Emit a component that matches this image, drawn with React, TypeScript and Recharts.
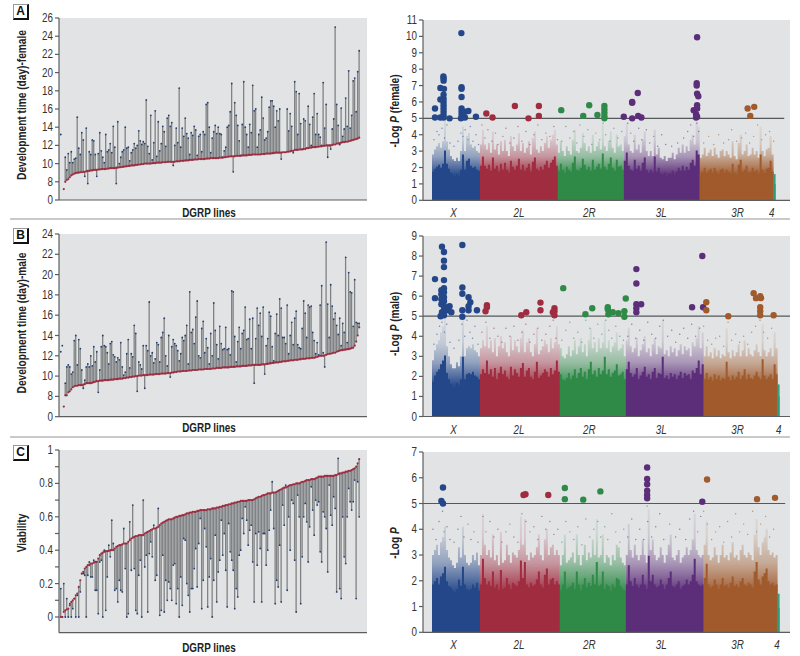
import { Area, Bar, CartesianGrid, ComposedChart, Line, ReferenceLine, Scatter, XAxis, YAxis } from 'recharts';

const FONT = '"Liberation Sans", Arial, sans-serif';
const PLOT_BG = '#e1e3e4';
const AXIS = '#5b5d5f';
const RED = '#9c2b40';
const BLUE = '#25406f';
const STEM = '#808385';
const CHROM_COLORS: Record<string, string> = {
  X: '#24478a',
  '2L': '#a02c40',
  '2R': '#2f8a48',
  '3L': '#5c2d78',
  '3R': '#a05a2c',
  '4': '#2a9d7e',
};

// development time, sorted line means (red) and replicate values (blue), female
const femaleMeans = [
  null, null, 7.2, 8.0, 8.2, 8.3, 8.5, 8.7, 8.8, 8.9,
  8.95, 9.0, 9.0, 9.05, 9.05, 9.1, 9.1, 9.15, 9.2, 9.2,
  9.25, 9.25, 9.3, 9.3, 9.3, 9.35, 9.35, 9.4, 9.4, 9.4,
  9.4, 9.45, 9.45, 9.5, 9.5, 9.5, 9.5, 9.55, 9.55, 9.6,
  9.6, 9.65, 9.65, 9.7, 9.7, 9.75, 9.75, 9.8, 9.8, 9.8,
  9.85, 9.85, 9.9, 9.9, 9.95, 9.95, 10, 10, 10, 10,
  10, 10.05, 10.05, 10.05, 10.1, 10.1, 10.1, 10.1, 10.15, 10.15,
  10.15, 10.2, 10.2, 10.2, 10.2, 10.2, 10.2, 10.25, 10.25, 10.25,
  10.3, 10.3, 10.3, 10.35, 10.35, 10.35, 10.4, 10.4, 10.4, 10.45,
  10.45, 10.45, 10.5, 10.5, 10.5, 10.5, 10.5, 10.55, 10.55, 10.55,
  10.6, 10.6, 10.6, 10.6, 10.6, 10.6, 10.65, 10.65, 10.65, 10.7,
  10.7, 10.75, 10.75, 10.8, 10.8, 10.8, 10.8, 10.85, 10.85, 10.85,
  10.85, 10.9, 10.9, 10.9, 10.9, 10.95, 10.95, 10.95, 11, 11,
  11, 11, 11, 11, 11.05, 11.05, 11.05, 11.1, 11.1, 11.1,
  11.1, 11.15, 11.15, 11.2, 11.2, 11.2, 11.2, 11.2, 11.25, 11.25,
  11.25, 11.3, 11.3, 11.35, 11.4, 11.4, 11.5, 11.5, 11.5, 11.55,
  11.55, 11.55, 11.6, 11.6, 11.7, 11.7, 11.75, 11.75, 11.8, 11.8,
  11.8, 11.85, 11.85, 11.9, 11.9, 11.95, 11.95, 12, 12, 12,
  12, 12.05, 12.1, 12.1, 12.2, 12.2, 12.25, 12.3, 12.35, 12.35,
  12.4, 12.4, 12.45, 12.5, 12.55, 12.6, 12.65, 12.7, 12.75, 12.85,
];
const femaleValues = [
  13.2, null, null, 10.7, 9.3, 11.1, 10.1, 11.3, 10.1, 10.5,
  10.6, 15.1, 11.7, 11.0, 13.4, 12.6, 8.6, 13.9, 7.8, 11.3,
  11.0, 12.6, 12.5, 11.0, 8.6, 11.1, 13.4, 11.4, 10.7, 10.1,
  13.2, 11.3, 11.5, 12.2, 11.2, 14.1, 11.8, 7.8, 14.6, 10.0,
  10.7, 11.3, 11.5, 14.0, 11.7, 11.8, 10.3, 11.2, 11.5, 12.2,
  11.7, 12.0, 13.6, 12.5, 12.1, 12.4, 12.2, 17.0, 11.9, 11.1,
  15.3, 10.4, 12.3, 15.8, 10.8, 14.6, 11.4, 12.2, 14.1, 13.5,
  11.9, 15.0, 15.3, 14.1, 14.5, 9.8, 12.0, 13.9, 12.3, 18.3,
  11.8, 13.9, 13.0, 15.0, 13.3, 12.8, 11.0, 13.4, 13.1, 14.1,
  13.7, 10.9, 13.0, 13.2, 11.3, 13.5, 13.2, 16.5, 16.7, 14.0,
  11.2, 12.8, 13.5, 14.2, 13.3, 14.0, 13.3, 13.2, 10.7, 11.4,
  11.8, 14.0, 14.2, 15.7, 18.8, 9.1, 16.7, 15.3, 14.2, 12.5,
  10.9, 14.3, 19.0, 14.0, 13.2, 11.8, 14.3, 13.4, 18.6, 15.8,
  16.0, 11.8, 13.2, 13.7, 17.3, 15.0, 12.6, 12.8, 13.5, 16.2,
  16.9, 16.9, 16.3, 14.0, 15.8, 14.7, 16.0, 10.5, null, null,
  null, 16.0, 13.6, 15.5, 14.1, 11.2, 19.0, 17.9, 13.2, 17.7,
  14.4, 11.6, 14.9, 14.7, 11.7, 16.3, 14.3, 12.0, 15.1, 17.7,
  13.2, 15.5, 13.2, 12.9, 12.0, 18.9, 13.9, 16.5, 10.7, 12.0,
  11.6, 13.8, 14.9, 25.0, 16.5, 14.2, 12.1, 16.1, 13.0, 13.8,
  17.2, 14.1, 20.2, 13.9, 15.3, 19.1, 19.4, 15.7, 20.1, 22.4,
];

const maleMeans = [
  null, null, 7.0, 8.1, 8.1, 8.4, 8.5, 8.7, 8.9, 9.0,
  9.05, 9.05, 9.1, 9.1, 9.1, 9.15, 9.2, 9.3, 9.3, 9.3,
  9.3, 9.35, 9.4, 9.45, 9.5, 9.5, 9.55, 9.55, 9.55, 9.6,
  9.6, 9.6, 9.6, 9.65, 9.65, 9.65, 9.7, 9.7, 9.7, 9.75,
  9.75, 9.75, 9.8, 9.8, 9.85, 9.85, 9.9, 9.9, 9.95, 9.95,
  10, 10, 10.05, 10.05, 10.05, 10.1, 10.1, 10.1, 10.1, 10.15,
  10.15, 10.15, 10.15, 10.2, 10.2, 10.2, 10.2, 10.25, 10.25, 10.25,
  10.25, 10.3, 10.3, 10.3, 10.35, 10.35, 10.4, 10.4, 10.45, 10.45,
  10.45, 10.5, 10.5, 10.5, 10.5, 10.55, 10.55, 10.55, 10.6, 10.6,
  10.6, 10.6, 10.65, 10.65, 10.65, 10.65, 10.7, 10.7, 10.7, 10.7,
  10.7, 10.75, 10.75, 10.75, 10.8, 10.8, 10.8, 10.8, 10.85, 10.85,
  10.85, 10.85, 10.85, 10.9, 10.9, 10.9, 10.9, 10.95, 10.95, 10.95,
  10.95, 11, 11, 11, 11, 11.05, 11.05, 11.05, 11.1, 11.1,
  11.1, 11.1, 11.1, 11.1, 11.15, 11.15, 11.15, 11.2, 11.2, 11.25,
  11.25, 11.3, 11.3, 11.35, 11.35, 11.35, 11.4, 11.4, 11.45, 11.45,
  11.45, 11.5, 11.5, 11.55, 11.55, 11.55, 11.6, 11.6, 11.6, 11.65,
  11.65, 11.7, 11.7, 11.7, 11.75, 11.75, 11.75, 11.8, 11.8, 11.8,
  11.85, 11.9, 11.95, 12, 12, 12, 12.05, 12.1, 12.15, 12.2,
  12.2, 12.25, 12.3, 12.3, 12.4, 12.45, 12.5, 12.55, 12.55, 12.6,
  12.6, 12.65, 12.65, 12.7, 12.75, 12.8, 13.0, 13.4, 14.0, 14.8,
];
const maleValues = [
  12.4, 13.0, null, 9.3, 10.9, 11.1, 10.9, 10.2, 10.4, 13.5,
  14.0, 11.1, 13.6, 12.7, 10.6, 8.8, 9.6, 10.9, 11.2, 10.9,
  12.0, 11.0, 12.9, 11.4, 12.4, 8.4, 10.6, 12.9, 14.0, 13.0,
  12.9, 12.3, 11.2, 13.2, 13.4, 12.1, 11.9, 11.4, 11.8, 11.6,
  13.3, 10.9, 10.1, 10.4, 12.2, 13.6, 10.8, 12.2, 11.9, 15.0,
  14.2, 8.5, 11.4, 11.1, 10.7, 13.0, 8.8, 13.0, 12.5, 17.3,
  12.0, 12.3, 11.3, 11.7, 13.3, 13.1, 11.4, 13.8, 14.3, 15.7,
  12.0, 11.0, 14.0, 9.9, 12.9, 13.6, 13.2, 13.0, 12.5, 11.5,
  12.2, 13.8, 13.5, 14.0, 15.0, 11.2, 18.3, 14.3, 14.6, 13.2,
  15.8, 17.4, 12.0, 11.8, 14.7, 15.4, 12.3, 13.7, 12.8, 11.2,
  14.2, 12.0, 17.2, 14.5, 13.1, 11.7, 14.9, 13.2, 12.6, 12.7,
  14.8, 12.6, 12.7, 12.1, 18.4, 18.3, 13.9, 11.4, 13.4, 14.8,
  12.7, 14.2, 14.5, 16.8, 13.6, 13.7, 15.6, 12.7, 15.7, 9.3,
  13.7, 16.7, 15.0, 16.2, 13.9, 16.8, 10.2, 13.0, 13.7, 16.3,
  15.9, 12.9, 11.5, 14.2, 16.1, 14.0, 17.6, 16.7, 13.8, 13.8,
  13.2, 17.0, 12.2, 14.0, 15.3, 13.1, 15.7, 16.4, 13.1, 12.8,
  12.7, 14.7, 17.4, 16.2, 13.8, 17.0, 16.8, 16.9, 14.3, 13.5,
  12.2, 13.3, 12.1, 17.0, 18.9, 12.3, 10.9, 23.2, 17.1, 13.8,
  19.0, 16.9, 15.6, 16.2, 15.0, 14.1, 15.7, 13.0, 15.2, 14.3,
  21.7, 13.3, 20.2, 18.3, 18.2, 14.9, 19.5, 15.3, 15.2, 15.2,
];

const viabilityMeans = [
  0, 0, 0.03, 0.04, 0.045, 0.05, 0.07, 0.09, 0.1, 0.11,
  0.13, 0.14, 0.18, 0.22, 0.26, 0.27, 0.29, 0.3, 0.31, 0.31,
  0.32, 0.32, 0.325, 0.33, 0.33, 0.35, 0.37, 0.38, 0.385, 0.39,
  0.395, 0.395, 0.395, 0.4, 0.4, 0.4, 0.41, 0.42, 0.425, 0.43,
  0.43, 0.435, 0.44, 0.44, 0.44, 0.45, 0.46, 0.47, 0.475, 0.48,
  0.485, 0.485, 0.49, 0.49, 0.49, 0.49, 0.5, 0.505, 0.51, 0.515,
  0.52, 0.525, 0.53, 0.53, 0.535, 0.54, 0.55, 0.56, 0.565, 0.57,
  0.575, 0.58, 0.585, 0.585, 0.585, 0.59, 0.595, 0.6, 0.6, 0.605,
  0.605, 0.61, 0.61, 0.615, 0.62, 0.62, 0.625, 0.625, 0.63, 0.63,
  0.63, 0.635, 0.635, 0.64, 0.64, 0.64, 0.64, 0.64, 0.645, 0.645,
  0.645, 0.65, 0.65, 0.65, 0.655, 0.655, 0.66, 0.66, 0.665, 0.665,
  0.67, 0.67, 0.675, 0.675, 0.68, 0.68, 0.685, 0.685, 0.69, 0.69,
  0.695, 0.695, 0.695, 0.695, 0.695, 0.7, 0.7, 0.7, 0.7, 0.705,
  0.71, 0.715, 0.72, 0.72, 0.725, 0.73, 0.73, 0.735, 0.74, 0.74,
  0.74, 0.745, 0.745, 0.745, 0.75, 0.755, 0.76, 0.765, 0.77, 0.775,
  0.775, 0.78, 0.785, 0.79, 0.79, 0.795, 0.795, 0.8, 0.8, 0.8,
  0.805, 0.81, 0.81, 0.815, 0.82, 0.82, 0.82, 0.825, 0.825, 0.825,
  0.83, 0.835, 0.84, 0.84, 0.84, 0.84, 0.845, 0.845, 0.845, 0.845,
  0.845, 0.845, 0.845, 0.85, 0.85, 0.855, 0.86, 0.86, 0.865, 0.865,
  0.87, 0.87, 0.875, 0.875, 0.88, 0.885, 0.89, 0.9, 0.92, 0.945,
];
const viabilityValues = [
  0.17, 0, 0.2, 0, 0.11, 0, 0.08, 0, 0.05, 0.11,
  0, 0.13, 0, 0.15, 0.26, 0.26, 0.25, 0, 0.25, 0.33,
  0.24, 0.24, 0.34, 0.16, 0.16, 0.02, 0.33, 0.34, 0, 0.4,
  0.04, 0.24, 0.43, 0.36, 0.58, 0.44, 0.16, 0.17, 0.09, 0.22,
  0.16, 0.15, 0.53, 0.29, 0, 0.02, 0.57, 0.28, 0.67, 0.29,
  0.04, 0.02, 0.25, 0.34, 0, 0.7, 0.3, 0.37, 0.03, 0.38,
  0.45, 0.36, 0.55, 0.22, 0.25, 0.65, 0.01, 0.04, 0.37, 0.03,
  0.22, 0.1, 0.21, 0.17, 0.1, 0.31, 0.32, 0.08, 0.17, 0,
  0.24, 0.07, 0.47, 0.46, 0.2, 0.13, 0.03, 0.17, 0.17, 0.29,
  0.41, 0.18, 0.44, 0.59, 0.05, 0.22, 0.53, 0.42, 0.06, 0.24,
  0.35, 0, 0.22, 0.49, 0.09, 0.27, 0.34, 0.58, 0.37, 0.5,
  0.28, 0.06, 0.56, 0.39, 0.34, 0.28, 0.05, 0.17, 0.12, 0.37,
  0.4, 0.59, 0.5, 0.66, 0.58, 0.43, 0.52, 0.55, 0.33, 0.09,
  0.5, 0.31, 0.51, 0.41, 0.09, 0.5, 0.5, 0.31, 0.4, 0.52,
  0.64, 0.81, 0.53, 0.08, 0.22, 0.18, 0.43, 0.09, 0.67, 0.55,
  0.79, 0.16, 0.6, 0.4, 0.7, 0.68, 0.34, 0.03, 0.73, 0.6,
  0.08, 0.36, 0.6, 0.68, 0.57, 0.33, 0.54, 0.78, 0.64, 0.49,
  0.7, 0.67, 0.69, 0.39, 0.33, 0.63, 0.6, 0.53, 0.27, 0.79,
  0.61, 0.55, 0.72, 0.65, 0.15, 0.95, 0.17, 0.11, 0.6, 0.36,
  0.32, 0.6, 0.77, 0.69, 0.64, 0.69, 0.82, 0.11, 0.81, 0.6,
];

const CHROMS = ['X', '2L', '2R', '3L', '3R', '4'];

// column tops of the -log P cloud, per chromosome
const femaleCloud: number[][] = [
  [2.8, 3.1, 3.3, 3.5, 3.2, 3.6, 4.9, 3.6, 3.1, 2.7, 2.5, 2.4, 2.6, 2.4, 3.0, 4.5, 3.0, 3.9, 4.1, 3.4, 3.2, 3.3, 3.0, 2.9],
  [3.4, 4.3, 3.4, 3.1, 3.5, 2.9, 4.2, 3.1, 3.4, 2.8, 3.6, 3.0, 3.7, 3.0, 2.7, 3.9, 3.3, 3.0, 3.4, 4.1, 3.0, 3.5, 2.9, 3.2, 3.6, 2.8, 3.8, 4.2, 3.1, 2.9, 3.3, 3.0, 3.5, 3.9, 3.2, 3.7, 4.0, 4.3, 3.4],
  [2.9, 3.6, 3.0, 2.7, 3.3, 3.0, 2.8, 3.7, 4.3, 3.0, 2.9, 3.2, 4.1, 3.5, 3.0, 3.3, 2.9, 4.0, 3.0, 3.3, 3.6, 3.1, 4.6, 3.3, 3.0, 3.6, 4.2, 3.2, 2.9, 4.0, 3.3, 3.4, 3.0],
  [3.9, 4.7, 3.4, 3.0, 2.9, 4.0, 3.1, 3.4, 2.9, 3.7, 4.2, 3.0, 2.7, 3.0, 2.7, 4.3, 2.8, 3.2, 2.6, 2.5, 2.7, 2.4, 2.6, 2.6, 2.9, 2.5, 2.8, 3.2, 2.9, 3.4, 2.9, 3.3, 3.0, 3.7, 4.0, 3.4, 4.9, 4.5],
  [2.6, 2.8, 3.2, 2.7, 2.9, 3.1, 2.7, 3.2, 2.8, 2.6, 3.0, 3.1, 2.7, 3.0, 2.8, 2.6, 3.6, 2.7, 2.5, 3.5, 4.0, 2.8, 3.0, 3.4, 2.7, 2.8, 3.2, 2.8, 3.0, 2.6, 4.5, 3.0, 2.7, 3.1, 3.2, 3.9, 2.8],
  [1.6],
];
const maleCloud: number[][] = [
  [2.8, 3.3, 3.6, 3.8, 4.2, 4.5, 4.9, 3.5, 3.0, 2.6, 2.4, 2.4, 2.7, 2.5, 3.0, 4.8, 3.0, 3.4, 3.5, 3.4, 3.6, 3.3, 3.2, 3.0],
  [3.4, 3.8, 3.5, 4.5, 3.4, 3.8, 3.2, 3.9, 3.0, 3.5, 4.0, 3.4, 3.7, 3.2, 3.0, 4.0, 3.3, 3.8, 3.5, 3.2, 3.9, 4.3, 3.2, 3.7, 3.9, 3.2, 3.0, 3.6, 4.4, 3.1, 3.3, 3.5, 3.8, 3.6, 3.2, 3.9, 3.4, 3.7, 4.5, 3.6],
  [3.4, 3.0, 2.9, 3.1, 3.5, 3.0, 3.3, 3.8, 3.1, 3.5, 3.9, 3.2, 3.6, 3.0, 3.8, 4.4, 3.4, 3.7, 3.2, 3.9, 3.4, 3.7, 4.8, 3.4, 3.8, 3.2, 3.5, 3.7, 4.2, 3.3, 3.4, 3.6, 3.0],
  [3.8, 4.4, 3.5, 3.2, 3.4, 3.9, 3.0, 3.3, 3.6, 4.0, 3.2, 3.4, 3.0, 3.6, 3.9, 3.1, 3.5, 3.4, 4.8, 3.1, 3.3, 3.0, 3.5, 3.2, 3.4, 3.0, 3.3, 3.6, 3.1, 3.5, 3.3, 3.4, 3.0, 3.7, 3.5, 3.9, 4.5, 3.4, 4.2],
  [3.0, 3.5, 3.0, 3.2, 2.9, 3.4, 3.0, 3.3, 2.9, 3.1, 3.0, 4.4, 3.2, 2.9, 3.3, 3.0, 3.2, 3.6, 3.0, 3.3, 3.8, 3.0, 3.4, 3.1, 3.0, 3.3, 3.6, 3.2, 3.0, 4.6, 3.3, 3.0, 3.2, 3.4, 3.0, 4.2, 3.4],
  [1.6],
];
const viabilityCloud: number[][] = [
  [3.0, 3.2, 3.4, 3.0, 3.5, 3.7, 4.1, 3.2, 2.9, 2.8, 2.6, 2.5, 2.7, 3.3, 2.9, 4.1, 3.0, 2.7, 2.6, 2.7, 3.0, 2.8, 3.1, 2.6],
  [3.0, 4.6, 3.4, 3.0, 3.2, 2.9, 3.8, 2.8, 3.0, 2.6, 3.9, 2.7, 2.8, 3.4, 3.0, 2.7, 3.1, 3.0, 2.9, 3.2, 4.5, 3.4, 4.4, 3.0, 2.8, 3.1, 2.9, 3.0, 3.3, 3.8, 3.0, 2.8, 3.6, 4.0, 3.0, 3.3, 3.4, 3.0, 3.2, 3.0],
  [2.6, 3.0, 3.8, 2.7, 2.8, 2.9, 3.1, 2.7, 3.8, 3.0, 2.6, 3.0, 3.4, 2.8, 3.1, 2.9, 3.6, 3.0, 4.4, 2.9, 3.0, 3.8, 2.7, 3.0, 2.9, 2.6, 3.0, 2.8, 3.4, 3.3, 2.9, 2.7, 2.6],
  [3.0, 4.2, 3.2, 2.9, 3.4, 3.0, 2.8, 3.0, 3.6, 3.0, 2.7, 4.8, 3.2, 3.6, 3.0, 2.8, 2.9, 3.3, 3.0, 2.7, 3.0, 3.4, 3.8, 2.9, 2.8, 3.0, 3.2, 2.7, 2.9, 3.0, 3.3, 3.0, 3.2, 3.6, 4.6, 3.2, 3.0, 2.9, 3.0],
  [3.4, 4.3, 3.0, 2.8, 2.9, 3.3, 3.0, 2.7, 3.0, 3.4, 2.9, 3.0, 2.8, 3.1, 3.5, 2.9, 3.0, 2.8, 3.2, 3.4, 3.0, 2.9, 3.1, 3.0, 2.8, 3.8, 4.4, 3.3, 3.0, 3.5, 3.7, 4.0, 3.2, 3.0, 3.1, 2.9, 3.0],
  [1.5],
];

// loose SNPs above the cloud: [position, -log P], one list per chromosome
const femaleSpecks: number[][][] = [
  [[1, 3.7], [2.5, 4.2], [3.5, 4.0], [5, 4.4], [6.3, 3.8], [7.5, 4.6], [9, 3.5], [11, 3.3], [13, 3.6], [14.5, 4.1], [15.5, 3.9], [16.6, 4.3], [18, 3.7], [19.2, 4.5], [20.5, 3.6], [22, 4.0], [23.3, 3.4]],
  [[25, 4.6], [26.5, 3.8], [28, 4.3], [30, 3.6], [31.8, 4.1], [33, 3.4], [35.5, 3.9], [37, 4.4], [39, 3.5], [41, 3.8], [43, 4.5], [45, 3.6], [47, 4.2], [49, 3.4], [51, 4.0], [53, 4.6], [55, 3.7], [57, 4.1], [59, 3.9], [61, 4.5], [62.8, 3.7]],
  [[65, 3.6], [67, 4.5], [69, 3.8], [71, 4.2], [72.5, 3.5], [74, 4.6], [76, 3.9], [78, 4.3], [80, 3.4], [82, 4.1], [84, 3.7], [85.6, 4.7], [87, 4.0], [89, 3.6], [91, 4.4], [93, 3.8], [95, 4.2]],
  [[98, 4.7], [99.5, 4.1], [101, 3.6], [103.5, 4.4], [105, 3.7], [107.3, 4.3], [109, 3.5], [111, 3.9], [113, 3.3], [115, 4.0], [117, 3.4], [120, 3.3], [123, 3.5], [126, 3.8], [128, 4.2], [129.5, 4.6], [131, 3.9], [132.6, 4.7], [133.5, 4.2]],
  [[136, 3.5], [138.5, 3.9], [141, 3.4], [143.5, 4.0], [146, 3.5], [148.5, 3.7], [150, 4.3], [152.5, 3.6], [155, 3.8], [157, 4.1], [159, 3.5], [161, 3.9], [163, 4.6], [165, 3.7], [167, 4.0], [169, 4.2], [171, 3.6]],
];
const maleSpecks: number[][][] = [
  [[1, 3.6], [2.5, 4.1], [3.8, 4.5], [5, 4.7], [6.2, 4.2], [7.4, 4.6], [9, 3.7], [11, 3.4], [13.5, 3.8], [15, 4.6], [16.4, 4.0], [17.5, 4.8], [19, 4.2], [20.3, 3.9], [21.5, 4.5], [23, 3.6]],
  [[25, 4.2], [27, 4.7], [29, 3.9], [31, 4.4], [33, 4.0], [35, 3.7], [37, 4.4], [39, 4.0], [41, 4.5], [43, 3.8], [45, 4.2], [47, 4.6], [49, 3.7], [51, 4.1], [53, 4.4], [55, 3.8], [57, 4.1], [59, 4.5], [60.7, 4.8], [62, 3.9]],
  [[65, 3.8], [67, 4.3], [69, 4.7], [71, 3.9], [73, 4.2], [75, 3.7], [77, 4.8], [79, 4.4], [81, 3.9], [83, 4.6], [85, 4.1], [87, 4.8], [88.5, 4.3], [90, 3.9], [92, 4.5], [94, 4.0], [95.8, 3.8]],
  [[98, 4.0], [100, 4.6], [102, 3.9], [104, 4.3], [106, 3.8], [108, 4.7], [110, 4.1], [112, 3.9], [114, 4.5], [115.8, 4.8], [118, 4.0], [120, 4.3], [122, 3.7], [124, 4.1], [126, 4.4], [128, 3.9], [130, 4.6], [132, 4.0], [134, 4.4]],
  [[136, 4.5], [138, 3.8], [140, 3.6], [142, 3.9], [144, 4.0], [146, 3.5], [148.2, 4.7], [150, 3.8], [152, 4.1], [154, 3.7], [156, 4.0], [158, 3.6], [160, 4.2], [162, 4.5], [164.2, 4.8], [166, 4.2], [168, 3.9], [170, 4.4]],
];
const viabilitySpecks: number[][][] = [
  [[0.5, 4.0], [2, 3.6], [3.5, 4.3], [5.3, 4.7], [6, 3.9], [7.5, 4.1], [9, 3.6], [11, 3.5], [13, 4.0], [14.5, 4.5], [16, 3.7], [18, 4.2], [19.5, 3.6], [21, 3.9], [23, 3.5]],
  [[25.5, 4.5], [27, 3.9], [29, 4.3], [31, 3.7], [33, 4.0], [35, 3.5], [37, 3.9], [39, 4.2], [41, 3.7], [43, 3.5], [45, 4.6], [47, 4.3], [49, 3.9], [51, 4.1], [53, 3.6], [55, 4.5], [57, 4.0], [59, 4.3], [61, 3.8], [63, 4.0]],
  [[65, 3.5], [67, 4.3], [69, 3.9], [71, 3.6], [73, 4.1], [75, 3.4], [77, 4.4], [79, 3.7], [81, 4.0], [83, 4.3], [84.5, 3.7], [86.5, 4.1], [88, 3.6], [90, 4.6], [92, 3.9], [94, 3.5], [96, 4.0]],
  [[98, 3.7], [100, 4.4], [102, 3.6], [104, 4.0], [106, 3.6], [107.7, 4.9], [108, 4.3], [110, 3.7], [112, 4.1], [114, 4.6], [116, 3.6], [119, 4.2], [122, 3.7], [124, 4.0], [127, 3.6], [129, 4.4], [131, 4.7], [133, 3.9], [134.5, 4.5]],
  [[136, 4.7], [137.8, 4.2], [140, 3.6], [142, 3.9], [144, 4.1], [146, 3.5], [148, 4.3], [150, 3.7], [152, 4.6], [154, 3.9], [156, 4.2], [158, 3.8], [160.5, 4.7], [162.5, 3.9], [164.5, 4.2], [167, 4.5], [169, 3.7], [171, 4.0]],
];

// significant SNPs: [position, -log P], one list per chromosome
const femaleHits: number[][][] = [
  [[1.5, 5.6], [1.5, 5.05], [5.7, 7.55], [5.8, 7.45], [5.8, 7.3], [4.2, 6.85], [6, 6.8], [4.2, 6.15], [5.8, 6.45], [5.8, 6.2], [5.8, 6.0], [5.8, 5.8], [5.8, 5.6], [5.8, 5.4], [5.8, 5.2], [5.8, 5.05], [4.2, 5.05], [8.8, 5.0], [14.7, 10.2], [14.8, 6.9], [14.8, 6.8], [14.8, 6.3], [14.8, 5.6], [14.8, 5.4], [14.8, 5.2], [14.5, 5.0], [16.5, 5.05], [16.5, 5.4], [18.2, 5.45], [22, 5.1]],
  [[27.2, 5.3], [30.3, 5.05], [41.5, 5.75], [48.3, 5.0], [53.5, 5.75], [53.5, 5.15]],
  [[64.7, 5.5], [75.7, 5.15], [78.7, 5.8], [82.8, 5.2], [86.3, 5.75], [86.3, 5.55], [86.3, 5.35], [86.3, 5.15], [86.3, 5.0]],
  [[96, 5.1], [100.2, 5.0], [100.2, 5.95], [100.2, 6.0], [103, 6.55], [103.2, 5.15], [104.8, 5.05], [132.7, 9.95], [132.5, 7.15], [132.5, 7.0], [132.7, 6.5], [133.3, 6.35], [132.7, 5.8], [131, 5.5], [132.7, 5.6], [132.2, 5.25], [132.2, 5.05], [132.7, 5.1]],
  [[158, 5.6], [161.3, 5.7], [159.3, 5.15]],
];
const maleHits: number[][][] = [
  [[1.5, 6.85], [1.5, 5.9], [5, 8.47], [6, 8.2], [6, 7.77], [6, 7.45], [6, 6.8], [6, 6.4], [4.7, 6.3], [6, 6.2], [4.7, 6.1], [6, 5.95], [4.7, 5.85], [6, 5.75], [4.7, 5.6], [6, 5.5], [6, 5.3], [5, 5.2], [6, 5.05], [4.3, 5.0], [8.8, 5.5], [8, 5.3], [9.7, 5.2], [15.2, 8.55], [15.2, 6.43], [15.2, 6.12], [15.2, 5.3], [15.2, 4.97], [18.3, 5.95], [19.2, 5.7], [18.3, 5.5], [18.3, 5.3], [22.5, 5.3]],
  [[27.5, 5.55], [27.5, 5.45], [26.8, 5.25], [44.7, 5.05], [47.2, 5.2], [54.3, 5.68], [54.3, 5.3], [61.3, 5.4], [61.3, 5.25], [60.5, 5.2], [61.3, 5.05]],
  [[65.7, 6.4], [76.8, 5.1], [80.2, 5.4], [88, 5.45], [88, 5.35], [88.3, 5.1], [90.5, 5.2], [93.3, 5.15], [96.3, 5.25], [96.3, 4.97], [97, 5.88]],
  [[102.3, 7.35], [102.3, 6.63], [102.3, 5.6], [102.3, 5.4], [102.3, 5.2], [104.7, 5.6], [130.2, 5.45], [135.3, 8.0], [135.7, 5.45]],
  [[137.3, 5.7], [137.3, 5.3], [148.3, 5.0], [161, 6.15], [162.2, 5.9], [164.3, 6.0], [164.7, 5.9], [164.3, 5.45], [164.3, 5.25], [164.3, 5.05], [171, 5.05]],
];
const viabilityHits: number[][][] = [
  [[5.5, 5.62], [4.7, 5.1], [5.5, 5.0]],
  [[45.8, 5.33], [46.8, 5.36], [58.2, 5.33]],
  [[66.5, 5.6], [66.5, 5.17], [75.7, 5.15], [84.3, 5.47]],
  [[107.7, 6.4], [107.7, 5.95], [107.7, 5.75], [107.7, 5.5], [107.7, 5.33], [107.7, 5.2], [135.3, 5.07]],
  [[137.7, 5.93], [162.7, 5.17], [171.7, 5.22]],
];

const femaleTicks = [6, 8, 10, 12, 14, 16, 18, 20, 22, 24, 26];
const maleTicks = [6, 8, 10, 12, 14, 16, 18, 20, 22, 24];
const viabilityTicks = [0, 0.1, 0.2, 0.3, 0.4, 0.5, 0.6, 0.7, 0.8, 0.9, 1];
const viabilityLabels = [0, 0.2, 0.4, 0.6, 0.8, 1];
const chromLabelPos = [10.8, 43.5, 78.7, 114.7, 153];

// the only narrow text here is a squeezed Liberation Sans
const NarrowTick = (fmt: (v: number) => string, anchor: 'end' | 'middle', italic = false) =>
  (p: any) => (
    <text
      transform={`translate(${p.x} ${p.y}) scale(0.82 1)`}
      dy={anchor === 'end' ? 4 : 9}
      textAnchor={anchor}
      fontSize={12}
      fontFamily={FONT}
      fontStyle={italic ? 'italic' : 'normal'}
      fill="#333"
    >
      {fmt(p.payload.value)}
    </text>
  );

function LinesPanel({ top, bottom, means, values, domain, ticks, fmt }: {
  top: number; bottom: number; means: (number | null)[]; values: (number | null)[];
  domain: number[]; ticks: number[]; fmt: (v: number) => string;
}) {
  const rows = values.map((v, i) => {
    const m = means[i] ?? null;
    return { i, m, v, stem: v != null && m != null ? [Math.min(m, v), Math.max(m, v)] : null };
  });
  return (
    <div style={{ position: 'absolute', left: 0, top: top - 6 }}>
      <ComposedChart width={380} height={bottom - top + 12} data={rows} margin={{ top: 6, right: 13, left: 0, bottom: 5 }}>
        <CartesianGrid fill={PLOT_BG} horizontal={false} vertical={false} />
        <XAxis dataKey="i" type="number" domain={[-1.2, 204.2]} tick={false} tickLine={false} height={1} stroke={AXIS} strokeWidth={1.2} />
        <YAxis width={59} domain={domain} ticks={ticks} interval={0} tick={NarrowTick(fmt, 'end')} tickSize={4} stroke={AXIS} strokeWidth={1.2} />
        <Bar dataKey="stem" barSize={1.3} fill={STEM} isAnimationActive={false} />
        <Line dataKey="v" stroke="none" dot={{ r: 0.9, fill: BLUE, stroke: 'none' }} isAnimationActive={false} />
        <Line dataKey="m" stroke="none" dot={{ r: 1.1, fill: RED, stroke: 'none' }} isAnimationActive={false} />
      </ComposedChart>
    </div>
  );
}

function ManhattanPanel({ id, top, bottom, cloud, specks, hits, yMax, lineEnd, fourPos }: {
  id: string; top: number; bottom: number; cloud: number[][]; specks: number[][][]; hits: number[][][];
  yMax: number; lineEnd: number; fourPos: number;
}) {
  // one row per column, each chromosome keeps its own pair of keys; the step
  // area of a chromosome runs on to the first column of the next one
  const rows: Record<string, number>[] = [];
  cloud.forEach((col, c) =>
    col.forEach((h, j) => {
      const row: Record<string, number> = { pos: rows.length, [CHROMS[c]]: h, [`${CHROMS[c]}_core`]: h * 0.62 };
      if (j === 0 && c > 0) {
        const last = cloud[c - 1][cloud[c - 1].length - 1];
        row[CHROMS[c - 1]] = last;
        row[`${CHROMS[c - 1]}_core`] = last * 0.62;
      }
      rows.push(row);
    }),
  );
  rows.push({ pos: rows.length, '4': 1.6, '4_core': 1.6 });
  const yPx = (v: number) => 6 + (bottom - top) * (1 - v / yMax);
  const yTicks = Array.from({ length: yMax + 1 }, (_, i) => i);
  const xTicks = [...chromLabelPos, fourPos];
  const chromLabel = (v: number) => CHROMS[xTicks.indexOf(v)];
  return (
    <div style={{ position: 'absolute', left: 385, top: top - 6 }}>
      <ComposedChart width={415} height={bottom - top + 30} data={rows} margin={{ top: 6, right: 10, left: 0, bottom: 6 }}>
        <defs>
          {CHROMS.map((c) => (
            <linearGradient key={c} id={`${id}-${c}`} gradientUnits="userSpaceOnUse" x1="0" x2="0" y1={yPx(5)} y2={yPx(1.6)}>
              <stop offset="0%" stopColor={CHROM_COLORS[c]} stopOpacity={0.05} />
              <stop offset="38%" stopColor={CHROM_COLORS[c]} stopOpacity={0.15} />
              <stop offset="68%" stopColor={CHROM_COLORS[c]} stopOpacity={0.42} />
              <stop offset="100%" stopColor={CHROM_COLORS[c]} stopOpacity={0.95} />
            </linearGradient>
          ))}
        </defs>
        <CartesianGrid fill={PLOT_BG} horizontal={false} vertical={false} />
        <XAxis
          dataKey="pos"
          type="number"
          domain={[-4.5, 179.2]}
          ticks={xTicks}
          interval={0}
          tick={NarrowTick(chromLabel, 'middle', true)}
          tickLine={false}
          height={18}
          stroke={AXIS}
          strokeWidth={1.2}
        />
        <YAxis width={38} domain={[0, yMax]} ticks={yTicks} interval={0} tick={NarrowTick(String, 'end')} tickSize={4} stroke={AXIS} strokeWidth={1.2} />
        {CHROMS.map((c) => (
          <Area key={c} type="stepAfter" dataKey={c} stroke="none" fill={`url(#${id}-${c})`} fillOpacity={1} dot={false} activeDot={false} isAnimationActive={false} />
        ))}
        {CHROMS.map((c) => (
          <Area key={c} type="stepAfter" dataKey={`${c}_core`} stroke="none" fill={CHROM_COLORS[c]} fillOpacity={1} dot={false} activeDot={false} isAnimationActive={false} />
        ))}
        {specks.map((list, c) => (
          <Scatter
            key={c}
            data={list.map(([pos, y]) => ({ pos, y }))}
            dataKey="y"
            isAnimationActive={false}
            shape={(p: any) => <circle cx={p.cx} cy={p.cy} r={0.7} fill={CHROM_COLORS[CHROMS[c]]} fillOpacity={0.6} />}
          />
        ))}
        <ReferenceLine segment={[{ x: -4.5, y: 5 }, { x: lineEnd, y: 5 }]} stroke="#55585a" strokeWidth={1.2} />
        {hits.map((list, c) => (
          <Scatter
            key={c}
            data={list.map(([pos, y]) => ({ pos, y }))}
            dataKey="y"
            isAnimationActive={false}
            shape={(p: any) => <circle cx={p.cx} cy={p.cy} r={3.2} fill={CHROM_COLORS[CHROMS[c]]} />}
          />
        ))}
      </ComposedChart>
    </div>
  );
}

function PanelTag({ top, label }: { top: number; label: string }) {
  return (
    <div style={{
      position: 'absolute', left: 13, top, width: 13, height: 13, border: '1px solid #999',
      borderRight: '2px solid #111', borderBottom: '2px solid #111', background: '#fff',
      font: `bold 12px ${FONT}`, textAlign: 'center', lineHeight: '13px', color: '#111',
    }}>{label}</div>
  );
}

function VLabel({ cx, cy, children }: { cx: number; cy: number; children: React.ReactNode }) {
  return (
    <div style={{
      position: 'absolute', left: cx, top: cy, transform: 'translate(-50%, -50%) rotate(-90deg) scaleX(0.78)',
      font: `bold 13px ${FONT}`, color: '#222', whiteSpace: 'nowrap',
    }}>{children}</div>
  );
}

function XTitle({ top }: { top: number }) {
  return (
    <div style={{
      position: 'absolute', left: 209, top, transform: 'translateX(-50%) scaleX(0.76)',
      font: `bold 13px ${FONT}`, color: '#222', whiteSpace: 'nowrap',
    }}>DGRP lines</div>
  );
}

function Rule({ top }: { top: number }) {
  return <div style={{ position: 'absolute', left: 10, top, width: 780, height: 2, background: '#c9c9c9' }} />;
}

const LogP = () => <i>P</i>;

export default function App() {
  const days = (v: number) => (v === 6 ? '0' : String(v));
  const viab = (v: number) => (viabilityLabels.includes(v) ? String(v) : '');
  return (
    <div style={{ position: 'absolute', left: 0, top: 0, width: 800, height: 656, background: '#fff', overflow: 'hidden' }}>
      <LinesPanel top={18.3} bottom={200.3} means={femaleMeans} values={femaleValues} domain={[6, 26]} ticks={femaleTicks} fmt={days} />
      <LinesPanel top={234} bottom={416.7} means={maleMeans} values={maleValues} domain={[6, 24]} ticks={maleTicks} fmt={days} />
      <LinesPanel top={450} bottom={632.7} means={viabilityMeans} values={viabilityValues} domain={[-0.094, 1]} ticks={viabilityTicks} fmt={viab} />

      <ManhattanPanel id="f" top={20} bottom={200.3} cloud={femaleCloud} specks={femaleSpecks} hits={femaleHits} yMax={11} lineEnd={176.3} fourPos={170} />
      <ManhattanPanel id="m" top={236} bottom={416.5} cloud={maleCloud} specks={maleSpecks} hits={maleHits} yMax={9} lineEnd={179.2} fourPos={173.5} />
      <ManhattanPanel id="v" top={452} bottom={632.3} cloud={viabilityCloud} specks={viabilitySpecks} hits={viabilityHits} yMax={7} lineEnd={176.8} fourPos={172.7} />

      <PanelTag top={4} label="A" />
      <PanelTag top={228} label="B" />
      <PanelTag top={445} label="C" />

      <VLabel cx={21} cy={105}>Development time (day)-female</VLabel>
      <VLabel cx={21} cy={323}>Development time (day)-male</VLabel>
      <VLabel cx={21} cy={533}>Viability</VLabel>
      <VLabel cx={394} cy={111}>-Log <LogP /> (female)</VLabel>
      <VLabel cx={394} cy={324}>-Log <LogP /> (male)</VLabel>
      <VLabel cx={394} cy={543}>-Log <LogP /></VLabel>

      <XTitle top={205} />
      <XTitle top={420} />
      <XTitle top={640} />

      <Rule top={218} />
      <Rule top={436} />
    </div>
  );
}
